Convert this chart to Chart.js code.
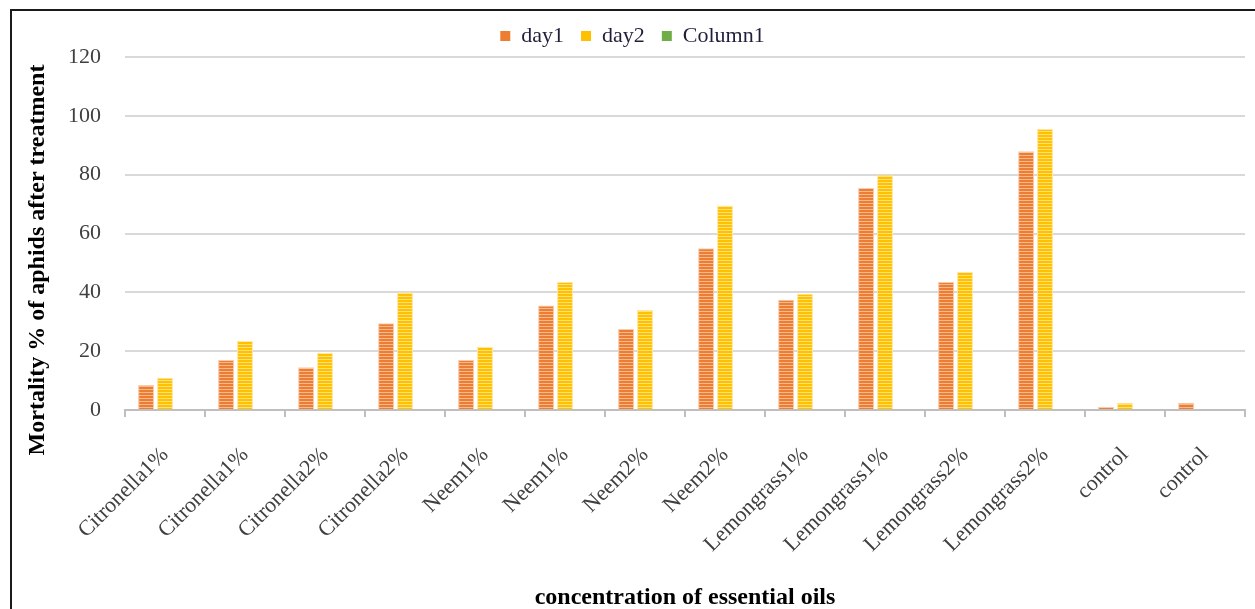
<!DOCTYPE html>
<html lang="en">
<head>
  <meta charset="UTF-8" />
  <title>Mortality of aphids</title>
  <script src="https://cdn.jsdelivr.net/npm/chart.js"></script>
  <style>
    body { margin: 0; background: #fff; }
    #wrap { position: relative; width: 1255px; height: 609px; }
    #frame { position: absolute; left: 10px; top: 9px; right: 0; bottom: 0;
             border-left: 2px solid #1a1a1a; border-top: 2px solid #1a1a1a; pointer-events: none; }
  </style>
</head>
<body>
  <div id="wrap">
    <canvas id="chart" width="1255" height="609"></canvas>
    <div id="frame"></div>
  </div>

  <script>
    const categories = ['Citronella1%', 'Citronella1%', 'Citronella2%', 'Citronella2%', 'Neem1%', 'Neem1%',
      'Neem2%', 'Neem2%', 'Lemongrass1%', 'Lemongrass1%', 'Lemongrass2%', 'Lemongrass2%', 'control', 'control'];
    const day1 = [8.5, 17, 14.5, 29.5, 17, 35.5, 27.5, 55, 37.5, 75.5, 43.5, 88, 1, 2.5];
    const day2 = [11, 23.5, 19.5, 40, 21.5, 43.5, 34, 69.5, 39.5, 80, 47, 95.5, 2.5, null];
    const column1 = [null, null, null, null, null, null, null, null, null, null, null, null, null, null];
    const yTicks = [0, 20, 40, 60, 80, 100, 120];

    const serif = '"Liberation Serif", "Times New Roman", serif';

    // striped fill like the office chart bars
    function stripes(base, light) {
      const c = document.createElement('canvas');
      c.width = 4; c.height = 3;
      const g = c.getContext('2d');
      g.fillStyle = base; g.fillRect(0, 0, 4, 3);
      g.fillStyle = light; g.fillRect(0, 2, 4, 1);
      return g.createPattern(c, 'repeat');
    }

    const solid = { day1: '#ED7D31', day2: '#FFC000', Column1: '#70AD47' };

    const yTitle = {
      id: 'yTitle',
      afterDraw(chart) {
        const ctx = chart.ctx;
        ctx.save();
        ctx.translate(38, 260);
        ctx.rotate(-Math.PI / 2);
        ctx.font = 'bold 24px ' + serif;
        ctx.fillStyle = '#000';
        ctx.textAlign = 'center';
        ctx.textBaseline = 'middle';
        ctx.fillText('Mortality % of aphids after treatment', 0, 0);
        ctx.restore();
      }
    };

    new Chart(document.getElementById('chart'), {
      type: 'bar',
      data: {
        labels: categories,
        datasets: [
          { label: 'day1', data: day1, backgroundColor: stripes('#ED7D31', '#F6B98F'), borderColor: '#F8CBAD', borderWidth: 1 },
          { label: 'day2', data: day2, backgroundColor: stripes('#FFC000', '#FFE07A'), borderColor: '#FFE699', borderWidth: 1 },
          { label: 'Column1', data: column1, backgroundColor: '#70AD47' }
        ]
      },
      options: {
        responsive: false,
        devicePixelRatio: 1,
        animation: false,
        categoryPercentage: 0.71,
        barPercentage: 0.84,
        layout: { padding: { left: 20, right: 10, top: 8, bottom: 0 } },
        plugins: {
          legend: {
            position: 'top',
            labels: {
              font: { family: serif, size: 22 },
              color: '#1f1f3a',
              boxWidth: 10,
              boxHeight: 10,
              padding: 17,
              generateLabels(chart) {
                return Chart.defaults.plugins.legend.labels.generateLabels(chart).map(l => {
                  l.fillStyle = solid[l.text];
                  l.strokeStyle = solid[l.text];
                  l.lineWidth = 0;
                  return l;
                });
              }
            }
          },
          tooltip: { enabled: false }
        },
        scales: {
          x: {
            grid: { drawOnChartArea: false, color: '#BFBFBF', lineWidth: 2, tickLength: 7 },
            border: { color: '#BFBFBF', width: 2 },
            ticks: { font: { family: serif, size: 22 }, color: '#404040', minRotation: 45, maxRotation: 45, padding: 25 },
            title: { display: true, text: 'concentration of essential oils', font: { family: serif, size: 24, weight: 'bold' }, color: '#000', padding: { top: 0, bottom: -3 } },
            afterFit(scale) { scale.height = 199; }
          },
          y: {
            min: 0,
            max: 120,
            afterBuildTicks(scale) { scale.ticks = yTicks.map(v => ({ value: v })); },
            grid: { color: '#D9D9D9', lineWidth: 2, drawTicks: false },
            border: { display: false },
            ticks: { font: { family: serif, size: 22 }, color: '#404040', padding: 24 },
            afterFit(scale) { scale.width = 105; }
          }
        }
      },
      plugins: [yTitle]
    });
  </script>
</body>
</html>
